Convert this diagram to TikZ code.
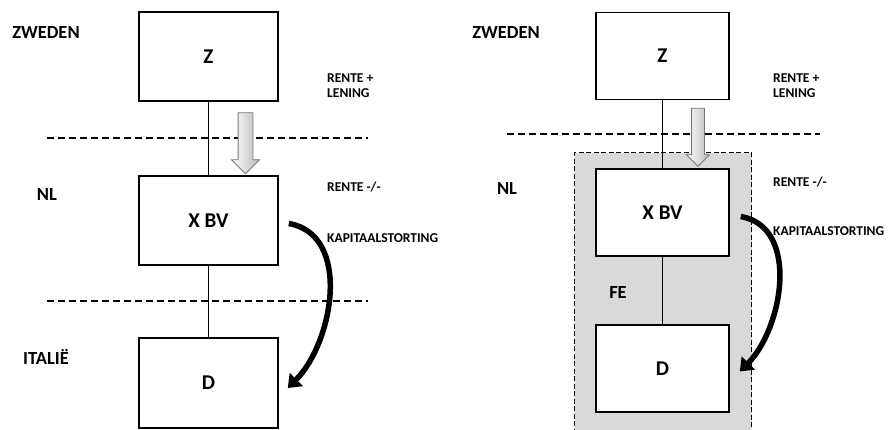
\documentclass[tikz,border=0pt]{standalone}
\usepackage{fontspec}
\setmainfont{Carlito}
\usepackage{tikz}
\usetikzlibrary{arrows.meta,positioning,calc,shapes.arrows}
\definecolor{zonegray}{RGB}{217,217,217}
\definecolor{arrowedge}{RGB}{120,120,120}
\definecolor{arrowfill}{RGB}{185,185,185}
\newcommand{\bigfont}{\fontsize{21}{24}\selectfont\bfseries}
\newcommand{\landfont}{\fontsize{18.5}{22}\selectfont\bfseries}
\newcommand{\notefont}{\fontsize{13.5}{15.5}\selectfont\bfseries}
\tikzset{entity/.style={draw=black,line width=1.6pt,fill=white,minimum width=139pt,minimum height=89pt,inner sep=0pt,font=\bigfont},entityr/.style={entity,minimum width=133pt,minimum height=87pt},land/.style={font=\landfont,inner sep=0pt},note/.style={font=\notefont,anchor=west,align=left,inner sep=0pt},link/.style={draw=black,line width=0.8pt},border/.style={draw=black,line width=1.3pt,dash pattern=on 7pt off 4pt},zone/.style={fill=zonegray,draw=black,line width=1.1pt,dash pattern=on 5pt off 2.5pt,inner sep=0pt},moneyflow/.style={single arrow,draw=arrowedge,line width=0.8pt,left color=white,right color=arrowfill,inner xsep=0pt,single arrow head indent=0pt,rotate=-90},payflow/.style={-{Triangle[length=12pt,width=18pt]},line width=5.5pt,draw=black}}
\begin{document}
\begin{tikzpicture}[x=1pt,y=1pt]
\useasboundingbox (0,0) rectangle (890,-429);
% left: before
\node[land] (sweL) at (46,-32) {ZWEDEN};
\node[land] (nlL) at (47,-194) {NL};
\node[land] (itL) at (46,-357) {ITALIË};
\draw[border] (47,-138) -- (368,-138);
\draw[border] (47,-301) -- (368,-301);
\node[entity] (zL) at (208.5,-56.5) {Z};
\node[entity] (xL) at (208.5,-220.5) {X BV};
\node[entity,minimum height=90pt] (dL) at (208.5,-383) {D};
\draw[link] (zL) -- (xL);
\draw[link] (xL) -- (dL);
\node[moneyflow,minimum height=61pt,inner ysep=7pt,single arrow head extend=6.5pt] (loanL) at (245.5,-139.5) {};
\node[note] (renteL) at (327,-85.5) {RENTE +\\LENING};
\node[note] (negL) at (327,-187) {RENTE -/-};
\node[note] (kapL) at (327,-238) {KAPITAALSTORTING};
\draw[payflow] ($(xL.east)+(10,-3)$) to[out=-10,in=45] ($(dL.east)+(9,-5)$);
% right: with FE
\node[land] (sweR) at (506,-32) {ZWEDEN};
\node[land] (nlR) at (507,-188) {NL};
\draw[border] (507,-134) -- (820,-134);
\node[zone,minimum width=177pt,minimum height=300pt,anchor=north west] (fe) at (574,-152) {};
\node[land] (feL) at (618,-292) {FE};
\node[entityr] (zR) at (662.5,-56) {Z};
\node[entityr] (xR) at (662.5,-212.5) {X BV};
\node[entityr] (dR) at (662.5,-368.5) {D};
\draw[link] (zR) -- (xR);
\draw[link] (xR) -- (dR);
\node[moneyflow,minimum height=58pt,inner ysep=6pt,single arrow head extend=5pt] (loanR) at (698,-134) {};
\node[note] (renteR) at (773,-85.5) {RENTE +\\LENING};
\node[note] (negR) at (773,-182) {RENTE -/-};
\node[note] (kapR) at (773,-231) {KAPITAALSTORTING};
\draw[payflow] ($(xR.east)+(11,-4)$) to[out=-10,in=45] ($(dR.east)+(10,-3)$);
\end{tikzpicture}
\end{document}
